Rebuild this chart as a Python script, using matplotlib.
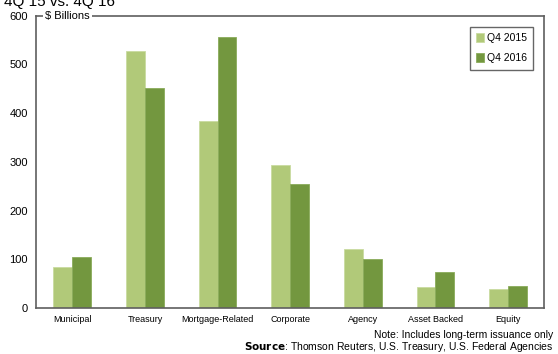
import matplotlib.pyplot as plt
import numpy as np

plt.rcParams["font.family"] = ["Liberation Sans", "DejaVu Sans"]

categories = ["Municipal", "Treasury", "Mortgage-Related", "Corporate",
              "Agency", "Asset Backed", "Equity"]
q4_2015 = [84, 527, 384, 294, 120, 43, 39]
q4_2016 = [104, 451, 556, 255, 100, 74, 45]

light = "#b1c979"
dark = "#73973f"
frame = "#5f5f5f"

fig = plt.figure(figsize=(5.58, 3.54), dpi=100)
ax = fig.add_axes([0.0645, 0.13, 0.911, 0.826])

x = np.arange(len(categories))
w = 0.26
ax.bar(x - w / 2, q4_2015, w, color=light, edgecolor="#c9dba0", linewidth=0.6, label="Q4 2015")
ax.bar(x + w / 2, q4_2016, w, color=dark, edgecolor="#8aab5a", linewidth=0.6, label="Q4 2016")

ax.set_xlim(-0.5, len(categories) - 0.5)
ax.set_ylim(0, 600)
ax.set_yticks(range(0, 601, 100))
ax.set_xticks(x)
ax.set_xticklabels(categories, fontsize=6.5)
ax.tick_params(axis="y", length=0, labelsize=8, pad=6)
ax.tick_params(axis="x", length=0, pad=5)

for side in ["left", "bottom", "top", "right"]:
    ax.spines[side].set_color(frame)
    ax.spines[side].set_linewidth(1.2)

# unit label sits on the top border
ax.text(0.018, 1.0, "$ Billions", transform=ax.transAxes, fontsize=8,
        va="center", ha="left",
        bbox=dict(facecolor="white", edgecolor="none", pad=1.5))

leg = ax.legend(loc="upper right", bbox_to_anchor=(0.978, 0.962), fontsize=7.5,
                frameon=True, fancybox=False, handlelength=0.7, handleheight=0.9,
                handletextpad=0.3, labelspacing=1.0, borderpad=0.6,
                borderaxespad=0)
leg.get_frame().set_edgecolor("#404040")
leg.get_frame().set_linewidth(1.0)

fig.text(0.007, (354 - 6) / 354, "4Q 15 vs. 4Q 16", fontsize=11, ha="left", va="baseline")
fig.text(0.992, 18.5 / 354, "Note: Includes long-term issuance only",
         fontsize=7.5, ha="right", va="center")
fig.text(0.992, 7 / 354,
         r"$\bf{Source}$: Thomson Reuters, U.S. Treasury, U.S. Federal Agencies",
         fontsize=7.5, ha="right", va="center")

fig.savefig("out.png", dpi=100)
